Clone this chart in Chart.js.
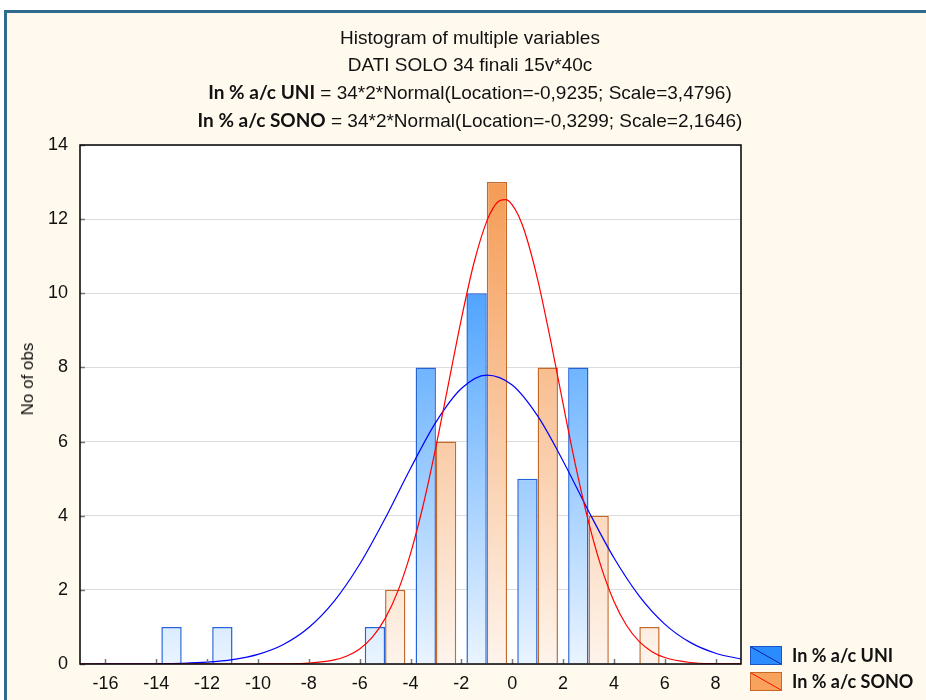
<!DOCTYPE html>
<html>
<head>
<meta charset="utf-8">
<script src="https://cdn.jsdelivr.net/npm/chart.js@4.4.0/dist/chart.umd.min.js"></script>
<style>
    body { margin: 0; background: #fff; overflow: hidden; font-family: Arial, "Liberation Sans", sans-serif; }
    #wrap { position: relative; width: 926px; height: 700px; overflow: hidden; }
    .frame { position: absolute; left: 4px; top: 10px; width: 960px; height: 720px; background: #fff9ee;
             border-left: 3px solid #2f6b8e; border-top: 3px solid #2f6b8e; }
    #chart-box { position: absolute; left: 0; top: 0; width: 926px; height: 700px; }
    #titles { position: absolute; left: 0; top: 24px; width: 940px; text-align: center;
              font-size: 19px; line-height: 27px; color: #111; }
    #titles b { font-family: Lato, sans-serif; font-weight: 700; }
    #y-title { position: absolute; left: 28px; top: 379px; transform: translate(-50%, -50%) rotate(-90deg);
               font-size: 17px; color: #111; white-space: nowrap; }
    #legend { position: absolute; left: 750px; top: 642px; }
    .leg-item { display: flex; align-items: center; height: 26px; }
    .swatch { width: 30px; height: 17px; flex-shrink: 0; margin-right: 10px; }
    .leg-item span { font-family: Lato, sans-serif; font-weight: 700; font-size: 18px; color: #111; }
</style>
</head>
<body>
<div id="wrap">
    <div class="frame"></div>
    <div id="chart-box"><canvas id="chart-hist"></canvas></div>
    <div id="titles">
        <div>Histogram of multiple variables</div>
        <div>DATI SOLO 34 finali 15v*40c</div>
        <div><b>In % a/c UNI</b> = 34*2*Normal(Location=-0,9235; Scale=3,4796)</div>
        <div><b>In % a/c SONO</b> = 34*2*Normal(Location=-0,3299; Scale=2,1646)</div>
    </div>
    <div id="y-title">No of obs</div>
    <div id="legend"></div>
</div>
<script>
// bin centres (width 2) and counts per variable
const binCenters = [-13, -11, -9, -7, -5, -3, -1, 1, 3, 5];
const uniCounts  = [1, 1, 0, 0, 1, 8, 10, 5, 8, 0];
const sonoCounts = [0, 0, 0, 0, 2, 6, 13, 8, 4, 1];

// fitted normal curves
const uniCurveX = [-17, -16, -15, -14, -13, -12, -11, -10, -9, -8, -7, -6, -5, -4, -3, -2, -1, 0, 1, 2, 3, 4, 5, 6, 7, 8, 9];
const uniCurveY = [0.0002, 0.0007, 0.002, 0.007, 0.019, 0.049, 0.118, 0.26, 0.527, 0.985, 1.697, 2.69, 3.925, 5.274,
                   6.524, 7.432, 7.794, 7.526, 6.691, 5.478, 4.129, 2.865, 1.831, 1.077, 0.583, 0.291, 0.134];
const sonoCurveX = [-17, -16, -15, -14, -13, -12, -11, -10, -9, -8, -7, -6.5, -6, -5.5, -5, -4.5, -4, -3.5, -3, -2.5,
                    -2, -1.5, -1, -0.75, -0.5, -0.25, 0, 0.25, 0.5, 1, 1.5, 2, 2.5, 3, 3.5, 4, 4.5, 5, 5.5, 6, 7, 8, 9];
const sonoCurveY = [0, 0, 0, 0, 0, 0, 0, 0.0006, 0.004, 0.024, 0.109, 0.216, 0.406, 0.723, 1.223, 1.959, 2.978, 4.289,
                    5.857, 7.583, 9.306, 10.83, 11.947, 12.299, 12.494, 12.524, 12.388, 12.091, 11.645, 10.377, 8.768,
                    7.022, 5.332, 3.839, 2.62, 1.695, 1.04, 0.605, 0.333, 0.174, 0.041, 0.008, 0.001];

const xTickValues = [-16, -14, -12, -10, -8, -6, -4, -2, 0, 2, 4, 6, 8];
const seriesNames = ['In % a/c UNI', 'In % a/c SONO'];

const toPoints = (xs, ys) => xs.map((x, i) => ({ x, y: ys[i] }));

function barGradient(stops) {
    return ctx => {
        const area = ctx.chart.chartArea;
        if (!area) return stops[0][1];
        const g = ctx.chart.ctx.createLinearGradient(0, area.bottom, 0, area.top);
        stops.forEach(([p, c]) => g.addColorStop(p, c));
        return g;
    };
}

// white plot area, inward tick marks, black frame
const plotFrame = {
    id: 'plotFrame',
    beforeDraw(chart) {
        const { ctx, chartArea: a } = chart;
        ctx.save();
        ctx.fillStyle = '#fff';
        ctx.fillRect(a.left, a.top, a.width, a.height);
        ctx.restore();
    },
    afterDatasetsDraw(chart) {
        const { ctx, chartArea: a, scales: { x, y } } = chart;
        ctx.save();
        ctx.strokeStyle = '#777';
        ctx.lineWidth = 1.5;
        ctx.beginPath();
        x.ticks.forEach(t => {
            const px = Math.round(x.getPixelForValue(t.value)) + 0.5;
            ctx.moveTo(px, a.bottom); ctx.lineTo(px, a.bottom - 5);
        });
        y.ticks.forEach(t => {
            const py = Math.round(y.getPixelForValue(t.value)) + 0.5;
            ctx.moveTo(a.left, py); ctx.lineTo(a.left + 5, py);
        });
        ctx.stroke();
        ctx.strokeStyle = '#000';
        ctx.lineWidth = 1.5;
        ctx.strokeRect(a.left, a.top, a.width, a.height);
        ctx.restore();
    }
};

const tickFont = { family: 'Arial, "Liberation Sans", sans-serif', size: 18 };

new Chart(document.getElementById('chart-hist').getContext('2d'), {
    data: {
        datasets: [
            {
                type: 'bar',
                label: seriesNames[0],
                data: toPoints(binCenters, uniCounts),
                backgroundColor: barGradient([[0, '#eaf4ff'], [0.72, '#4fa4ff'], [1, '#3a95ff']]),
                borderColor: '#2563d9',
                borderWidth: 1.5,
                categoryPercentage: 0.8,
                barPercentage: 1,
                order: 2
            },
            {
                type: 'bar',
                label: seriesNames[1],
                data: toPoints(binCenters, sonoCounts),
                backgroundColor: barGradient([[0, '#fef4ec'], [1, '#f4954a']]),
                borderColor: '#c46a2a',
                borderWidth: 1.5,
                categoryPercentage: 0.8,
                barPercentage: 1,
                order: 2
            },
            {
                type: 'line',
                label: seriesNames[0] + ' fit',
                data: toPoints(uniCurveX, uniCurveY),
                borderColor: '#0000ff',
                borderWidth: 1.2,
                pointRadius: 0,
                cubicInterpolationMode: 'monotone',
                fill: false,
                order: 1
            },
            {
                type: 'line',
                label: seriesNames[1] + ' fit',
                data: toPoints(sonoCurveX, sonoCurveY),
                borderColor: '#ff0000',
                borderWidth: 1.2,
                pointRadius: 0,
                cubicInterpolationMode: 'monotone',
                fill: false,
                order: 0
            }
        ]
    },
    options: {
        responsive: true,
        maintainAspectRatio: false,
        animation: false,
        layout: { padding: { left: 0, top: 145, right: 185, bottom: 0 } },
        plugins: {
            legend: { display: false },
            title: { display: false },
            tooltip: { enabled: false }
        },
        scales: {
            x: {
                type: 'linear',
                min: -17,
                max: 9,
                offset: false,
                afterFit: s => { s.height = 36; },
                afterBuildTicks: s => { s.ticks = xTickValues.map(v => ({ value: v })); },
                ticks: { color: '#111', font: tickFont, padding: 9 },
                grid: { display: false, drawTicks: false },
                border: { display: false }
            },
            y: {
                min: 0,
                max: 14,
                afterFit: s => { s.width = 80; },
                ticks: { stepSize: 2, color: '#111', font: tickFont, padding: 12 },
                grid: { color: '#dcdcdc', lineWidth: 1, drawTicks: false },
                border: { display: false }
            }
        }
    },
    plugins: [plotFrame]
});

// legend
const swatches = [
    { fill: '#2b8cff', edge: '#1a55c8', line: '#0a1a9c' },
    { fill: '#f7a35c', edge: '#c8692a', line: '#ff0000' }
];
document.getElementById('legend').innerHTML = seriesNames.map((name, i) => {
    const s = swatches[i];
    return `<div class="leg-item">
        <div class="swatch" style="border:1px solid ${s.edge};background:linear-gradient(to top right, ${s.fill} calc(50% - 0.8px), ${s.line} 50%, ${s.fill} calc(50% + 0.8px));"></div>
        <span>${name}</span>
    </div>`;
}).join('');
</script>
</body>
</html>
